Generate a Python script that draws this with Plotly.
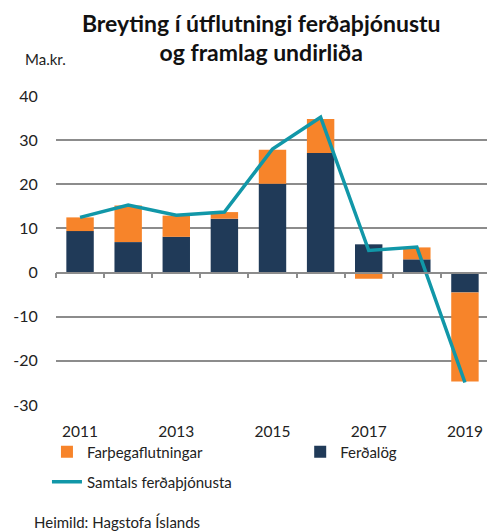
import plotly.graph_objects as go

years = [2011, 2012, 2013, 2014, 2015, 2016, 2017, 2018, 2019]
year_ticks = [2011, 2013, 2015, 2017, 2019]
ferdalog = [9.4, 6.9, 8.1, 12.2, 20.1, 27.1, 6.4, 3.0, -4.5]
farthegaflutningar = [3.1, 8.3, 4.8, 1.5, 7.7, 7.7, -1.4, 2.7, -20.2]
samtals = [12.5, 15.3, 13.0, 13.7, 28.0, 35.2, 5.0, 5.8, -24.9]
y_ticks = [-30, -20, -10, 0, 10, 20, 30, 40]
y_labels = ["-30", "-20", "-10", "0", "10", "20", "30", "40"]
boundaries = [2010.5 + i for i in range(10)]

ORANGE = "#F7842A"
NAVY = "#203A58"
TEAL = "#1197A8"
GRID = "#8C8C8C"
FONT = "Lato, Open Sans, sans-serif"

# page body keeps its default 8px margin, so the figure is 8px smaller than the window
W, H = 487, 524

fig = go.Figure()
# navy first so it sits next to zero, orange stacks on top / below
fig.add_trace(go.Bar(x=years, y=ferdalog, name="Ferðalög", legend="legend2",
                     marker=dict(color=NAVY, line=dict(width=0)), width=0.57))
fig.add_trace(go.Bar(x=years, y=farthegaflutningar, name="Farþegaflutningar", legend="legend",
                     marker=dict(color=ORANGE, line=dict(width=0)), width=0.57))
fig.add_trace(go.Scatter(x=years, y=samtals, name="Samtals ferðaþjónusta", mode="lines",
                         legend="legend3", line=dict(color=TEAL, width=3.5), xaxis="x2"))

leg = dict(orientation="h", xref="container", yref="container", xanchor="left",
           yanchor="top", font=dict(size=15), bgcolor="rgba(0,0,0,0)")

fig.update_layout(
    width=W, height=H, barmode="relative", showlegend=True,
    plot_bgcolor="white", paper_bgcolor="white",
    font=dict(family=FONT, size=15, color="#222222"),
    margin=dict(l=48, r=6, t=88, b=127),
    title=dict(text="<b>Breyting í útflutningi ferðaþjónustu<br>og framlag undirliða</b>",
               x=0.52, xanchor="center", y=0.955, yanchor="top",
               font=dict(size=23, color="#111111")),
    xaxis=dict(range=[2010.5, 2019.5], anchor="free", position=30 / 70,
               showline=True, linecolor=GRID, linewidth=1.5,
               tickmode="array", tickvals=boundaries, ticks="outside",
               ticklen=5, tickcolor=GRID, tickwidth=1.5,
               showticklabels=False, showgrid=False, zeroline=False),
    xaxis2=dict(range=[2010.5, 2019.5], overlaying="x", anchor="y", side="bottom",
                tickmode="array", tickvals=year_ticks, showgrid=False,
                showline=False, ticks="outside", ticklen=12,
                tickcolor="rgba(0,0,0,0)", zeroline=False, automargin=False,
                tickfont=dict(size=15.5)),
    yaxis=dict(range=[-30, 40], tickmode="array", tickvals=y_ticks, ticktext=y_labels,
               showgrid=True, gridcolor=GRID, gridwidth=1.5, zeroline=False,
               ticks="outside", ticklen=14, tickcolor="rgba(0,0,0,0)", showline=False,
               automargin=False, tickfont=dict(size=16)),
    legend=dict(leg, x=0.080, y=0.184),
    legend2=dict(leg, x=0.600, y=0.184),
    legend3=dict(leg, x=0.080, y=0.127),
    annotations=[
        dict(text="Ma.kr.", xref="paper", yref="paper", x=-0.076, y=1.12,
             xanchor="left", yanchor="middle", showarrow=False, font=dict(size=15)),
        dict(text="Heimild: Hagstofa Íslands", xref="paper", yref="paper",
             x=-0.055, y=-0.379, xanchor="left", yanchor="middle",
             showarrow=False, font=dict(size=15)),
    ],
)

fig.write_html("out.html")
